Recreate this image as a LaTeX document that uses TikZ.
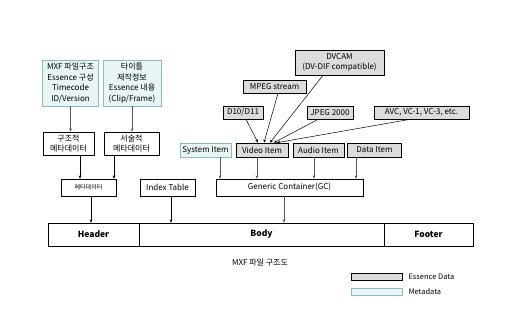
\documentclass[tikz,border=0pt]{standalone}
\usepackage{fontspec}
\setmainfont{Noto Sans CJK KR}
\usetikzlibrary{arrows.meta,calc}
\definecolor{essfill}{HTML}{DCDCDC}
\definecolor{metafill}{HTML}{E8F5F5}
\definecolor{metaline}{HTML}{8FBCC4}
\definecolor{arrgray}{HTML}{555555}
\tikzset{
  base/.style={draw=black,line width=0.7pt,inner sep=0pt,align=center,font=\fontsize{8}{10.6}\selectfont},
  plain/.style={base,fill=white},
  ess/.style={base,fill=essfill},
  meta/.style={base,fill=metafill,draw=metaline},
  arr/.style={draw=arrgray,line width=0.7pt,-{Stealth[length=3.2pt,width=2.8pt]}},
  thin/.style={draw=black,line width=0.5pt,-{Stealth[length=3.2pt,width=2.8pt]}},
  row/.style={plain,minimum height=23,font=\fontsize{8.5}{10}\selectfont\bfseries},
  legtext/.style={anchor=west,font=\fontsize{7.5}{8}\selectfont},
}
\begin{document}
\begin{tikzpicture}[x=1pt,y=-1pt]
\useasboundingbox (0,0) rectangle (515,333);
% metadata source boxes
\node[meta,minimum width=56,minimum height=46] (m1) at (70.5,83) {MXF 파일구조\\Essence 구성\\Timecode\\ID/Version};
\node[meta,minimum width=58,minimum height=46] (m2) at (132,83) {타이틀\\제작정보\\Essence 내용\\(Clip/Frame)};
\node[plain,minimum width=51,minimum height=23] (s1) at (68.5,143.5) {구조적\\메타데이터};
\node[plain,minimum width=55,minimum height=23] (s2) at (131.5,143.5) {서술적\\메타데이터};
\node[plain,minimum width=55,minimum height=17] (md) at (88.5,187.5) {\fontsize{6}{6}\selectfont 메타데이터};
\node[plain,minimum width=55,minimum height=17] (it) at (167.5,187.5) {Index Table};
\node[plain,minimum width=147,minimum height=17] (gc) at (289.5,187.5) {Generic Container(GC)};
% items
\node[meta,minimum width=51,minimum height=14] (sys) at (205.5,150) {System Item};
\node[ess,minimum width=52,minimum height=14] (vid) at (262,150) {Video Item};
\node[ess,minimum width=51,minimum height=14] (aud) at (318.5,150) {Audio Item};
\node[ess,minimum width=54,minimum height=14] (dat) at (374.5,150) {Data Item};
% essence types
\node[ess,minimum width=40,minimum height=13] (d10) at (243,112.5) {D10/D11};
\node[ess,minimum width=63,minimum height=13] (mpeg) at (274.5,86.5) {MPEG stream};
\node[ess,minimum width=89,minimum height=25] (dv) at (339.5,62.5) {DVCAM\\(DV-DIF compatible)};
\node[ess,minimum width=46,minimum height=13] (jp) at (330,112.5) {JPEG 2000};
\node[ess,minimum width=95,minimum height=13] (avc) at (421.5,112.5) {AVC, VC-1, VC-3, etc.};
% MXF file row
\node[row,minimum width=91] (hd) at (93.5,234.5) {Header};
\node[row,minimum width=245] (bd) at (261.5,234.5) {Body};
\node[row,minimum width=89] (ft) at (428.5,234.5) {Footer};
% arrows
\draw[arr] (m1.south) -- (s1.north -| m1.south);
\draw[arr] (m2.south) -- (s2.north -| m2.south);
\draw[thin] (s1.south -| 80,0) -- (md.north -| 80,0);
\draw[thin] (s2.south -| 114,0) -- (md.north -| 114,0);
\draw[thin] (md.south -| 91,0) -- (hd.north -| 91,0);
\draw[thin] (it.south -| 171,0) -- (bd.north -| 171,0);
\draw[arr] (gc.south -| 284,0) -- (bd.north -| 284,0);
\draw[arr] (sys.south -| 220,0) -- (gc.north -| 220,0);
\draw[arr] (vid.south -| 257,0) -- (gc.north -| 257,0);
\draw[arr] (aud.south -| 314,0) -- (gc.north -| 314,0);
\draw[arr] (dat.south -| 356,0) -- (gc.north -| 356,0);
\draw[thin] ([xshift=3]d10.south) -- ([xshift=-4]vid.north);
\draw[thin] ([xshift=3.5]mpeg.south) -- ([xshift=2]vid.north);
\draw[thin] ([xshift=-16.5]dv.south) -- ([xshift=8]vid.north);
\draw[thin] ([xshift=-12]jp.south) -- ([xshift=12]vid.north);
\draw[thin] ([xshift=-11.5]avc.south) -- ([xshift=15]vid.north);
% caption and legend
\node[font=\fontsize{8}{9}\selectfont] (cap) at (260,263) {MXF 파일 구조도};
\node[ess,minimum width=51,minimum height=7] (le) at (376.5,276.5) {};
\node[meta,minimum width=51,minimum height=7] (lm) at (376.5,292) {};
\node[legtext] (lt1) at (405,276.5) {Essence Data};
\node[legtext] (lt2) at (405,292) {Metadata};
\end{tikzpicture}
\end{document}
